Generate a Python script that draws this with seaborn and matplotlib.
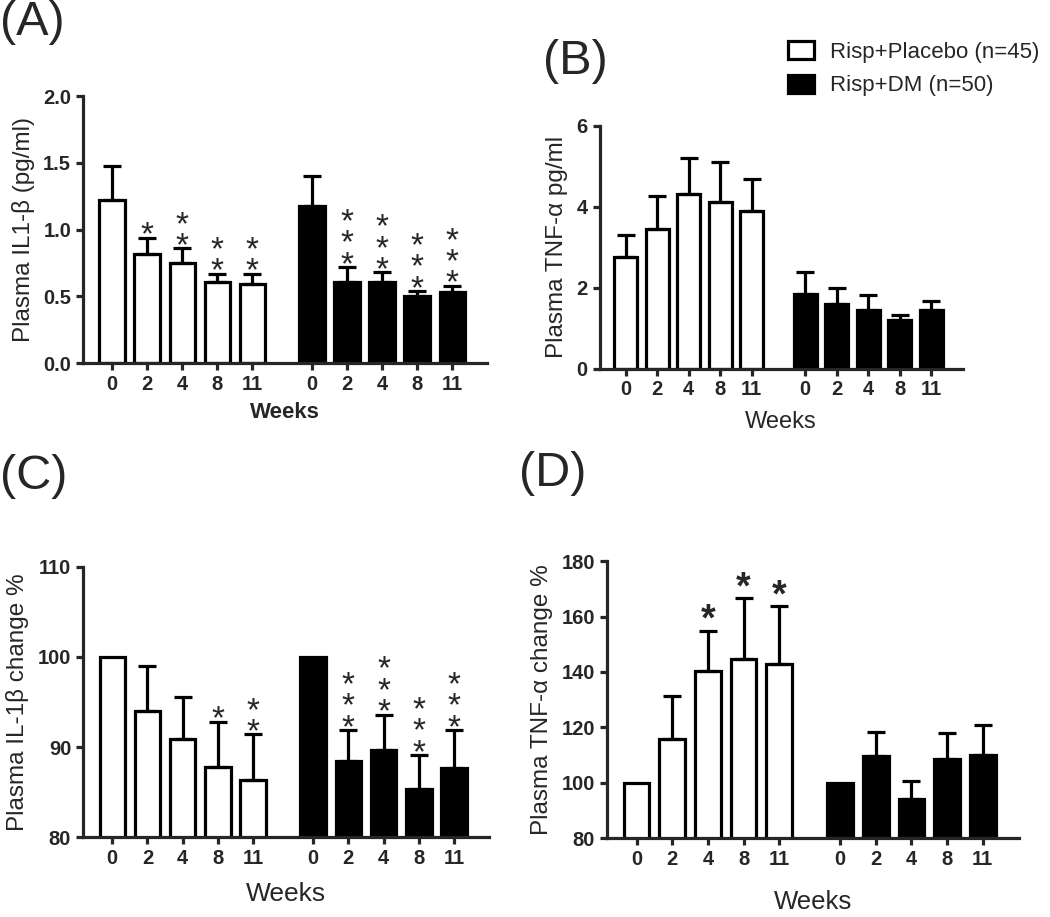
### Plasma IL-1beta / TNF-alpha bar panels ###

import matplotlib
matplotlib.use("Agg")
import matplotlib.pyplot as plt
from matplotlib.patches import Patch
import numpy as np
import pandas as pd
import seaborn as sns

# data
weeks = ["0", "2", "4", "8", "11"]
groups = ["Risp+Placebo (n=45)", "Risp+DM (n=50)"]

il1_placebo = [1.22, 0.82, 0.75, 0.61, 0.59]
il1_placebo_top = [1.48, 0.94, 0.86, 0.67, 0.67]
il1_dm = [1.18, 0.61, 0.61, 0.50, 0.53]
il1_dm_top = [1.40, 0.72, 0.68, 0.54, 0.58]
il1_placebo_stars = [0, 1, 2, 2, 2]
il1_dm_stars = [0, 3, 3, 3, 3]

tnf_placebo = [2.75, 3.46, 4.31, 4.12, 3.90]
tnf_placebo_top = [3.29, 4.27, 5.20, 5.09, 4.67]
tnf_dm = [1.85, 1.59, 1.44, 1.21, 1.45]
tnf_dm_top = [2.38, 2.00, 1.81, 1.32, 1.67]

il1_pct_placebo = [100.0, 94.0, 90.9, 87.8, 86.4]
il1_pct_placebo_top = [100.0, 99.0, 95.5, 92.8, 91.4]
il1_pct_dm = [100.0, 88.5, 89.7, 85.3, 87.7]
il1_pct_dm_top = [100.0, 91.9, 93.6, 89.1, 91.9]
il1_pct_placebo_stars = [0, 0, 0, 1, 2]
il1_pct_dm_stars = [0, 3, 3, 3, 3]

tnf_pct_placebo = [100.0, 115.8, 140.4, 144.6, 142.9]
tnf_pct_placebo_top = [100.0, 131.2, 154.9, 166.6, 163.7]
tnf_pct_dm = [100.0, 109.5, 94.0, 108.4, 110.1]
tnf_pct_dm_top = [100.0, 118.3, 100.8, 118.0, 120.7]
tnf_pct_placebo_stars = [0, 0, 1, 1, 1]
tnf_pct_dm_stars = [0, 0, 0, 0, 0]

sns.set_style("ticks")
plt.rcParams["font.family"] = ["Liberation Sans", "DejaVu Sans"]

LW = 2.3
GAP = 5.7
pos = np.concatenate([np.arange(5), np.arange(5) + GAP])


def bar_panel(ax, placebo, placebo_top, dm, dm_top, ylim, yticks, ylabel,
              stars_p=None, stars_d=None, big_star=False, bold_weeks=False,
              weeks_pad=6, weeks_size=17):
    frame = pd.DataFrame({
        "pos": pos,
        "value": placebo + dm,
        "group": [groups[0]] * 5 + [groups[1]] * 5,
    })
    sns.barplot(data=frame, x="pos", y="value", hue="group", native_scale=True,
                dodge=False, palette={groups[0]: "white", groups[1]: "black"},
                edgecolor="black", linewidth=LW, width=0.72, errorbar=None,
                legend=False, ax=ax)
    tops = np.array(placebo_top + dm_top)
    vals = np.array(placebo + dm)
    up = tops - vals
    has = up > 0
    ax.errorbar(pos[has], vals[has], yerr=[np.zeros(has.sum()), up[has]],
                fmt="none", ecolor="black", elinewidth=LW, capsize=6.5,
                capthick=LW, zorder=1)
    # significance stars, stacked in one text
    stars = (stars_p or [0] * 5) + (stars_d or [0] * 5)
    for x, top, n in zip(pos, tops, stars):
        if n == 0:
            continue
        if big_star:
            ax.annotate("*", (x, top), xytext=(0, 0),
                        textcoords="offset points", ha="center",
                        va="baseline", fontsize=27, fontweight="bold")
        else:
            ax.annotate("\n".join(["*"] * n), (x, top), xytext=(0, -5),
                        textcoords="offset points", ha="center",
                        va="baseline", fontsize=24, linespacing=0.6)
    ax.set_xlim(-0.83, pos[-1] + 1.0)
    ax.set_ylim(*ylim)
    ax.set_yticks(yticks)
    ax.set_xticks(pos)
    ax.set_xticklabels(weeks * 2)
    ax.set_ylabel(ylabel, fontsize=17.5, labelpad=6)
    ax.set_xlabel("Weeks", fontsize=weeks_size, labelpad=weeks_pad,
                  fontweight="bold" if bold_weeks else "normal")
    sns.despine(ax=ax)
    for s in ["left", "bottom"]:
        ax.spines[s].set_linewidth(LW)
    ax.tick_params(direction="out", length=5, width=LW, labelsize=14.5)
    for lab in ax.get_xticklabels() + ax.get_yticklabels():
        lab.set_fontweight("bold")


fig = plt.figure(figsize=(10.5, 9.17), dpi=100)
axA = fig.add_axes([0.079, 0.604, 0.385, 0.291])
axB = fig.add_axes([0.571, 0.598, 0.346, 0.265])
axC = fig.add_axes([0.079, 0.087, 0.387, 0.295])
axD = fig.add_axes([0.578, 0.086, 0.392, 0.302])

bar_panel(axA, il1_placebo, il1_placebo_top, il1_dm, il1_dm_top, (0, 2.0),
          [0.0, 0.5, 1.0, 1.5, 2.0], "Plasma IL1-\u03b2 (pg/ml)",
          il1_placebo_stars, il1_dm_stars, bold_weeks=True, weeks_size=16)
axA.set_yticklabels(["0.0", "0.5", "1.0", "1.5", "2.0"])
for lab in axA.get_yticklabels():
    lab.set_fontweight("bold")
bar_panel(axB, tnf_placebo, tnf_placebo_top, tnf_dm, tnf_dm_top, (0, 6),
          [0, 2, 4, 6], "Plasma TNF-\u03b1 pg/ml", weeks_pad=8)
bar_panel(axC, il1_pct_placebo, il1_pct_placebo_top, il1_pct_dm, il1_pct_dm_top,
          (80, 110), [80, 90, 100, 110], "Plasma IL-1\u03b2 change %",
          il1_pct_placebo_stars, il1_pct_dm_stars, weeks_size=19, weeks_pad=10)
bar_panel(axD, tnf_pct_placebo, tnf_pct_placebo_top, tnf_pct_dm, tnf_pct_dm_top,
          (80, 180), [80, 100, 120, 140, 160, 180], "Plasma TNF-\u03b1 change %",
          tnf_pct_placebo_stars, tnf_pct_dm_stars, big_star=True,
          weeks_size=18.5, weeks_pad=15)

# panel letters
for x, y, lab in [(0.0, 1.0, "(A)"), (0.517, 0.958, "(B)"),
                  (0.0, 0.505, "(C)"), (0.494, 0.508, "(D)")]:
    fig.text(x, y, lab, fontsize=35, va="top", ha="left")

handles = [Patch(facecolor="white", edgecolor="black", linewidth=LW),
           Patch(facecolor="black", edgecolor="black", linewidth=LW)]
fig.legend(handles, groups, loc="upper left", bbox_to_anchor=(0.731, 0.977),
           frameon=False, fontsize=16, handlelength=1.2, handleheight=0.85,
           labelspacing=0.55, handletextpad=0.7)

plt.savefig("out.png", dpi=100)
